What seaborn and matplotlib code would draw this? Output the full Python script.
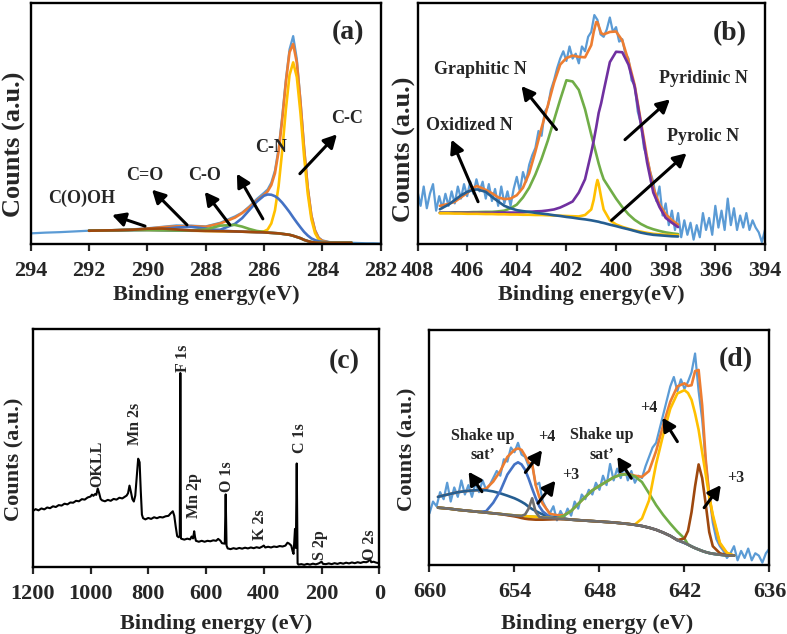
import numpy as np
import matplotlib
matplotlib.use("Agg")
import matplotlib.pyplot as plt
import seaborn as sns

# ---------------- (a) C 1s ----------------
be_a = [292, 291.5, 291, 290.5, 290, 289.5, 289, 288.5, 288, 287.5, 287, 286.75, 286.5, 286.25,
        286, 285.875, 285.75, 285.625, 285.5, 285.375, 285.25, 285.125, 285, 284.875, 284.75,
        284.625, 284.5, 284.375, 284.25, 284.125, 284, 283.75, 283.5, 283.25, 283]
raw_be_a = [294, 293.5, 293, 292.5] + be_a + [282.75, 282.5, 282.25, 282]
raw_a = [4.6, 4.9, 5.1, 5.4,
         5.7, 5.9, 6.0, 6.3, 6.7, 7.3, 7.9, 7.8, 7.5, 9.0, 11.6, 13.2, 15.8, 18.8, 21.4, 22.8,
         25.6, 30.6, 39.8, 53.2, 68.4, 80.8, 86.3, 76.8, 59.8, 40.3, 23.8, 12.3, 6.0, 2.9, 1.7,
         1.0, 0.8, 0.7, 0.7,
         0.6, 0.5, 0.5, 0.4]
env_a = [5.7, 5.8, 5.9, 6.1, 6.5, 7.1, 7.5, 7.6, 7.3, 8.7, 11.1, 13.0, 15.4, 18.2, 20.6, 22.0,
         24.6, 29.5, 38.5, 51.8, 67.2, 79.6, 83.0, 75.3, 58.9, 39.7, 23.3, 11.9, 5.7, 2.6, 1.5,
         0.8, 0.7, 0.7, 0.7]
cc_a = [5.7, 5.8, 5.9, 6.0, 6.0, 5.9, 5.8, 5.7, 5.6, 5.5, 5.4, 5.3, 5.2, 5.1, 5.4, 6.2, 8.7,
        14.1, 24.2, 38.9, 56.0, 70.2, 75.4, 69.3, 54.4, 36.4, 21.0, 10.4, 4.7, 2.0, 1.1, 0.7,
        0.7, 0.7, 0.7]
cn_a = [5.7, 5.8, 5.9, 6.0, 6.0, 5.9, 5.8, 5.7, 5.7, 6.1, 8.5, 10.9, 14.3, 17.7, 20.2, 20.7,
        20.6, 20.0, 18.9, 17.3, 15.4, 13.4, 11.2, 9.1, 7.1, 5.2, 3.7, 2.5, 1.8, 1.3, 1.1, 0.8,
        0.7, 0.7, 0.7]
c_dbl_o_a = [5.7, 5.8, 5.9, 6.0, 6.1, 6.4, 7.0, 7.3, 6.6, 5.8, 5.4, 5.3, 5.2, 5.1, 5.0, 4.9,
             4.8, 4.7, 4.6, 4.4, 4.2, 4.0, 3.6, 3.1, 2.6, 1.9, 1.4, 1.0, 0.8, 0.7, 0.7, 0.7,
             0.7, 0.7, 0.7]
co_a = [5.7, 5.8, 5.9, 6.0, 6.0, 5.9, 5.8, 5.8, 6.2, 7.8, 8.1, 7.4, 6.4, 5.6, 5.2, 4.9, 4.8,
        4.7, 4.6, 4.4, 4.2, 4.0, 3.6, 3.1, 2.6, 1.9, 1.4, 1.0, 0.8, 0.7, 0.7, 0.7, 0.7, 0.7, 0.7]
cooh_base_a = [5.7, 5.8, 5.9, 6.1, 6.5, 6.6, 6.2, 5.8, 5.6, 5.5, 5.4, 5.3, 5.2, 5.1, 5.0, 4.9,
               4.8, 4.7, 4.6, 4.4, 4.2, 4.0, 3.6, 3.1, 2.6, 1.9, 1.4, 1.0, 0.8, 0.7, 0.7, 0.7,
               0.7, 0.7, 0.7]

# ---------------- (b) N 1s ----------------
be_b = [407.1, 406.75, 406.5, 406.25, 406.0, 405.75, 405.6, 405.25, 405.0, 404.75, 404.5,
        404.25, 404.0, 403.75, 403.5, 403.25, 403.0, 402.75, 402.5, 402.25, 402.0, 401.75,
        401.5, 401.25, 401.0, 400.9, 400.8, 400.75, 400.7, 400.6, 400.5, 400.25, 400.0, 399.75,
        399.5, 399.25, 399.0, 398.75, 398.5, 398.25, 398.0, 397.75, 397.5]
raw_be_b = np.linspace(408, 394, 113)
raw_b = [22, 16, 24, 15, 21, 25, 14, 20,
         15, 21, 16, 22, 17, 24, 19, 25,
         20, 26, 21, 27, 22, 26, 19, 25,
         18, 23, 16, 24, 17, 22, 16, 23,
         28, 22, 30, 26, 33, 37, 40, 47,
         45, 55, 57, 64, 68, 73, 77, 80,
         76, 82, 77, 79, 75, 82, 80, 86,
         88, 95, 93, 87, 86, 89, 94, 88,
         90, 84, 85, 79, 77, 68, 66, 55,
         50, 40, 36, 30, 26, 18, 24, 12,
         17, 8, 14, 6, 13, 3, 10, 4,
         9, 2, 8, 3, 13, 6, 11, 4,
         16, 7, 14, 6, 19, 8, 15, 6,
         12, 7, 13, 6, 10, 7, 5, 1,
         6]
env_b = [16.0, 16.8, 17.7, 19.5, 21.3, 23.5, 24.2, 22.6, 21.2, 19.5, 18.8, 19.0, 20.4, 23.5,
         29.5, 38.5, 48.3, 57.5, 67.0, 74.5, 77.2, 78.2, 77.7, 77.5, 82.5, 88.0, 92.1, 92.0,
         90.5, 87.5, 87.0, 88.0, 88.2, 84.5, 76.0, 66.0, 51.0, 36.0, 23.5, 16.5, 12.5, 10.0, 8.2]
oxidized_b = [14.6, 16.5, 18.4, 20.3, 21.8, 22.6, 22.8, 21.8, 19.7, 17.8, 16.0, 15.0, 14.2,
              13.8, 13.5, 13.1, 12.8, 12.5, 12.1, 11.8, 11.4, 11.1, 10.7, 10.4, 10.0, 9.8, 9.6,
              9.5, 9.4, 9.1, 8.9, 8.2, 7.6, 6.9, 6.3, 5.6, 4.9, 4.4, 4.0, 3.8, 3.6, 3.4, 3.3]
graphitic_b = [13.2, 13.2, 13.3, 13.3, 13.3, 13.4, 13.4, 13.5, 13.5, 13.7, 14.0, 15.0, 16.5,
               19.5, 23.5, 29.0, 35.5, 43.0, 51.5, 60.0, 68.0, 67.5, 64.0, 56.0, 45.5, 41.5,
               37.5, 35.5, 33.5, 30.0, 27.0, 23.0, 19.0, 15.5, 12.5, 10.2, 8.5, 7.2, 6.3, 5.6,
               5.0, 4.6, 4.3]
pyridinic_b = [13.1, 13.1, 13.1, 13.1, 13.1, 13.1, 13.1, 13.1, 13.1, 13.2, 13.2, 13.2, 13.2,
               13.3, 13.5, 13.7, 13.8, 14.1, 14.5, 15.3, 16.5, 17.8, 21.5, 27.0, 38.0, 43.0,
               48.5, 51.5, 54.5, 58.5, 63.5, 75.5, 79.8, 79.6, 74.5, 65.2, 50.0, 34.0, 21.5,
               15.5, 11.0, 9.0, 7.2]
pyrolic_b = [12.9, 12.9, 12.8, 12.8, 12.7, 12.7, 12.7, 12.6, 12.6, 12.5, 12.5, 12.4, 12.4,
             12.3, 12.3, 12.2, 12.2, 12.1, 12.0, 11.9, 11.8, 11.7, 11.6, 12.2, 14.5, 18.5, 24.5,
             26.7, 25.0, 19.5, 14.5, 10.0, 8.3, 7.3, 6.5, 5.8, 5.3, 4.8, 4.4, 4.2, 4.0, 3.9, 3.8]

# ---------------- (c) survey ----------------
survey_be = [1200, 1190, 1180, 1170, 1160, 1150, 1140, 1130, 1120, 1110,
             1100, 1090, 1080, 1070, 1060, 1050, 1040, 1030, 1020, 1010,
             1000, 995, 990, 985, 980, 975, 970, 965, 960,
             950, 940, 930, 920, 910, 900, 890, 880,
             875, 870, 865, 860, 855, 850, 845, 840, 835, 830, 826, 822, 818,
             810, 800, 790, 780, 770, 760, 750, 740, 730,
             722, 715, 710, 705, 700, 695, 691, 689, 687, 684,
             675, 665, 655, 650, 645, 641, 638, 635,
             625, 615, 605, 595, 585, 575, 565, 558, 550, 545, 535, 532, 529, 525,
             515, 505, 495, 485, 475, 465, 455, 445, 435, 425, 415, 405, 400, 395,
             385, 375, 365, 355, 345, 335, 325, 318, 312, 305, 300, 297, 294, 292, 289, 286, 283, 280,
             270, 260, 250, 240, 230, 220, 210, 200, 195,
             185, 175, 165, 155, 145, 135, 125, 115, 105, 95, 85, 75, 65, 55, 45,
             38, 33, 28, 20, 10, 0]
survey_counts = [23.5, 24.3, 23.8, 24.6, 24.2, 25.0, 24.7, 25.5, 25.2, 26.0,
                 25.8, 26.6, 26.3, 27.1, 27.0, 27.8, 27.6, 28.5, 28.3, 29.2,
                 29.6, 30.4, 29.9, 30.6, 30.3, 33.0, 31.0, 28.6, 28.0,
                 27.6, 28.2, 27.8, 28.6, 28.3, 29.1, 28.8, 29.6,
                 30.0, 31.0, 34.2, 31.5, 28.5, 27.5, 30.0, 38.0, 45.5, 44.0, 32.0, 22.0, 20.5,
                 20.0, 20.6, 20.2, 20.9, 20.5, 21.0, 20.8, 21.3, 21.5,
                 22.6, 23.4, 21.5, 17.0, 13.0, 12.5, 13.0, 81.5, 12.0, 11.8,
                 11.5, 11.9, 11.6, 12.8, 12.0, 15.0, 12.5, 11.0,
                 10.6, 11.0, 10.6, 11.0, 10.8, 11.2, 11.0, 11.8, 11.0, 10.0, 9.8, 30.5, 9.0, 7.8,
                 7.5, 7.9, 7.6, 8.0, 7.7, 8.1, 7.8, 8.2, 7.9, 8.3, 8.0, 8.6, 9.0, 8.2,
                 8.5, 8.2, 8.6, 8.4, 8.8, 8.6, 9.0, 10.2, 9.8, 9.0, 6.5, 5.5, 12.0, 16.0, 8.0, 43.5, 1.5, 1.0,
                 1.2, 0.9, 1.3, 1.0, 1.4, 1.1, 1.5, 2.2, 1.3,
                 1.2, 1.5, 1.2, 1.6, 1.3, 1.7, 1.4, 1.8, 1.5, 1.9, 1.6, 2.0, 1.7, 2.1, 2.0,
                 2.4, 3.5, 2.0, 2.2, 1.8, 1.6]
survey_labels = ["OKLL", "Mn 2s", "F 1s", "Mn 2p", "O 1s", "K 2s", "C 1s", "S 2p", "O 2s"]
survey_label_be = [977, 846, 681, 643, 527, 413, 274.5, 205, 32]
survey_label_y = [33.6, 51.3, 82.0, 20.5, 31.5, 11.2, 47.9, 2.8, 2.8]

# ---------------- (d) Mn 2p ----------------
be_d = [659.4, 659.0, 658.5, 658.0, 657.5, 657.0, 656.5, 656.0, 655.5, 655.0, 654.5, 654.0,
        653.75, 653.5, 653.25, 653.0, 652.75, 652.5, 652.25, 652.0, 651.5, 651.0, 650.5, 650.0,
        649.5, 649.0, 648.5, 648.0, 647.5, 647.0, 646.5, 646.0, 645.5, 645.0, 644.5, 644.0,
        643.5, 643.0, 642.5, 642.0, 641.75, 641.5, 641.25, 641.0, 640.75, 640.5, 640.25, 640.0,
        639.5, 639.0, 638.5]
raw_be_d = np.linspace(660, 636, 97)
raw_d = [22, 27, 25, 31, 28, 35, 27, 33, 29, 36, 30, 34, 29, 35, 31, 36,
         32, 34, 37, 40, 38, 45, 44, 50, 48, 52, 47, 46, 42, 43, 34, 35,
         27, 24, 22, 25, 19, 23, 20, 24, 21, 27, 24, 30, 28, 32, 30, 35,
         32, 38, 34, 43, 36, 41, 37, 42, 36, 40, 35, 38, 37, 42, 46, 50,
         52, 58, 64, 70, 76, 80, 74, 79, 75, 78, 82, 90, 74, 62, 44, 30,
         18, 11, 8, 6, 3, 5, 8, 2, 6, 3, 7, 2, 5, 4, 1, 5,
         7]
env_d = [29.0, 29.6, 30.3, 31.0, 31.4, 31.7, 31.9, 32.5, 35.5, 40.0, 46.0, 49.0, 49.6, 49.0,
         46.5, 43.5, 43.0, 34.0, 29.0, 26.0, 21.8, 21.2, 21.2, 23.0, 26.0, 29.0, 31.8, 33.7,
         35.5, 37.3, 38.5, 38.8, 38.0, 37.5, 40.0, 48.5, 59.5, 69.5, 76.0, 77.3, 76.2, 76.5,
         82.5, 83.0, 68.0, 45.0, 29.5, 20.5, 9.0, 5.0, 4.0]
sat_left_d = [29.0, 29.6, 30.3, 31.0, 31.4, 31.7, 31.9, 31.8, 31.3, 30.5, 29.5, 28.4, 27.7,
              26.9, 26.0, 24.8, 23.8, 23.0, 22.2, 21.5, 20.6, 20.1, 19.8, 19.3, 19.1, 18.9,
              18.7, 18.5, 18.3, 18.1, 17.8, 17.5, 17.1, 16.6, 15.9, 15.0, 13.8, 12.4, 10.6, 9.4,
              8.7, 7.9, 7.2, 6.6, 6.0, 5.5, 5.1, 4.8, 4.4, 4.1, 4.0]
mn4_left_d = [24.4, 24.2, 23.9, 23.5, 23.2, 22.9, 22.6, 22.9, 26.5, 31.5, 38.5, 42.8, 43.7,
              42.8, 40.5, 36.8, 32.5, 28.5, 25.0, 22.8, 20.4, 19.8, 19.6, 19.3, 19.1, 18.9,
              18.7, 18.5, 18.3, 18.1, 17.8, 17.5, 17.1, 16.6, 15.9, 15.0, 13.8, 12.4, 10.6, 9.4,
              8.7, 7.9, 7.2, 6.6, 6.0, 5.5, 5.1, 4.8, 4.4, 4.1, 4.0]
sat_right_d = [24.4, 24.2, 23.9, 23.5, 23.2, 22.9, 22.6, 22.3, 22.0, 21.7, 21.4, 21.1, 21.0,
               20.9, 20.8, 20.7, 20.6, 20.5, 20.3, 20.2, 20.0, 19.8, 21.0, 23.0, 26.0, 29.0,
               31.8, 33.7, 35.5, 37.3, 38.4, 38.6, 37.7, 35.3, 30.5, 25.5, 21.3, 17.6, 14.2,
               11.3, 8.7, 7.9, 7.2, 6.6, 6.0, 5.5, 5.1, 4.8, 4.4, 4.1, 4.0]
mn4_right_d = [24.4, 24.2, 23.9, 23.5, 23.2, 22.9, 22.6, 22.3, 22.0, 21.7, 21.4, 21.1, 21.0,
               20.9, 20.8, 20.7, 20.6, 20.5, 20.3, 20.2, 20.0, 19.8, 19.6, 19.3, 19.1, 18.9,
               18.7, 18.5, 18.3, 18.1, 17.8, 17.5, 17.2, 19.8, 27.5, 43.0, 55.5, 66.5, 73.0,
               74.4, 73.2, 70.3, 64.5, 57.5, 48.0, 38.5, 29.0, 21.5, 9.5, 5.2, 4.0]
mn3_d = [24.4, 24.2, 23.9, 23.5, 23.2, 22.9, 22.6, 22.3, 22.0, 21.7, 21.2, 20.7, 20.4, 20.0,
         19.7, 19.5, 19.4, 19.3, 19.3, 19.3, 19.4, 19.5, 19.5, 19.3, 19.1, 18.9, 18.7, 18.5,
         18.3, 18.1, 17.8, 17.5, 17.1, 16.6, 15.9, 15.0, 13.8, 12.4, 10.6, 11.3, 14.5, 22.5,
         33.5, 42.8, 37.0, 26.0, 14.0, 8.0, 5.0, 4.1, 4.0]
base_d = [24.4, 24.2, 23.9, 23.5, 23.2, 22.9, 22.6, 22.3, 22.0, 21.7, 21.4, 21.1, 21.0, 20.9,
          21.5, 24.0, 28.4, 22.5, 20.5, 20.2, 20.0, 19.8, 19.6, 19.3, 19.1, 18.9, 18.7, 18.5,
          18.3, 18.1, 17.8, 17.5, 17.1, 16.6, 15.9, 15.0, 13.8, 12.4, 10.6, 9.4, 8.7, 7.9, 7.2,
          6.6, 6.0, 5.5, 5.1, 4.8, 4.4, 4.1, 4.0]

# colours (Excel palette)
RAW = "#5B9BD5"
ORANGE = "#ED7D31"
YELLOW = "#FFC000"
BLUE = "#4472C4"
GREEN = "#70AD47"
BROWN = "#9E480E"
DBLUE = "#255E91"
PURPLE = "#7030A0"
GRAY = "#6E6E6E"

sns.set_style("ticks")
plt.rcParams["font.family"] = ["Liberation Serif", "DejaVu Serif"]
plt.rcParams["font.weight"] = "bold"
plt.rcParams["axes.labelweight"] = "bold"


def line(ax, x, y, color, lw=1.9):
    sns.lineplot(x=x, y=y, ax=ax, color=color, linewidth=lw,
                 estimator=None, sort=False, legend=False)


def arrow(ax, tail, head):
    ax.annotate("", xy=head, xytext=tail,
                arrowprops=dict(arrowstyle="-|>,head_length=0.6,head_width=0.32",
                                color="black", lw=2.2, shrinkA=0, shrinkB=0,
                                mutation_scale=13))


def frame(ax, xlim, xticks, xlabel, xlab_pos, ylab_size, ylab_pos, tag, tag_pos):
    ax.set_xlim(*xlim)
    ax.set_ylim(0, 100)
    ax.set_xticks(xticks)
    ax.set_yticks([])
    ax.tick_params(axis="x", direction="out", length=5, width=1.6, pad=7,
                   labelsize=16)
    for sp in ax.spines.values():
        sp.set_visible(True)
        sp.set_linewidth(1.7)
        sp.set_color("black")
    ax.set_xlabel(xlabel, fontsize=16, fontweight="bold", va="center")
    ax.xaxis.set_label_coords(*xlab_pos)
    ax.set_ylabel("Counts (a.u.)", fontsize=ylab_size, fontweight="bold", va="center")
    ax.yaxis.set_label_coords(*ylab_pos)
    ax.text(tag_pos[0], tag_pos[1], tag, transform=ax.transAxes, ha="center",
            va="center", fontsize=20, fontweight="bold")


fig = plt.figure(figsize=(7.87, 6.34), dpi=100)
ax_a = fig.add_axes([0.0390, 0.6144, 0.4447, 0.3809])
ax_b = fig.add_axes([0.5305, 0.6144, 0.4415, 0.3809])
ax_c = fig.add_axes([0.0416, 0.1057, 0.4404, 0.3754])
ax_d = fig.add_axes([0.5457, 0.1088, 0.4320, 0.3707])

# (a)
line(ax_a, raw_be_a, raw_a, RAW, 1.6)
line(ax_a, be_a, env_a, ORANGE)
line(ax_a, be_a, cc_a, YELLOW)
line(ax_a, be_a, cn_a, BLUE)
line(ax_a, be_a, c_dbl_o_a, BLUE)
line(ax_a, be_a, co_a, GREEN)
line(ax_a, be_a, cooh_base_a, BROWN)
frame(ax_a, (294, 282), np.arange(294, 281, -2), "Binding energy(eV)", (0.501, -0.21),
      19, (-0.047, 0.4165), "(a)", (0.906, 0.878))
for txt, pos in [("C-C", (283.15, 52.3)), ("C-N", (285.76, 40.2)), ("C=O", (290.08, 28.5)),
                 ("C-O", (288.03, 28.5)), ("C(O)OH", (292.24, 19.3))]:
    ax_a.text(pos[0], pos[1], txt, ha="center", va="center", fontsize=13, fontweight="bold")
arrow(ax_a, (284.77, 29.3), (283.5, 45.6))
arrow(ax_a, (286.04, 10.6), (286.93, 29.3))
arrow(ax_a, (287.17, 8.1), (288.03, 21.8))
arrow(ax_a, (288.64, 8.1), (289.84, 22.7))
arrow(ax_a, (290.08, 7.6), (291.21, 12.2))

# (b)
line(ax_b, raw_be_b, raw_b, RAW, 1.6)
line(ax_b, be_b, env_b, ORANGE)
line(ax_b, be_b, graphitic_b, GREEN)
line(ax_b, be_b, pyridinic_b, PURPLE)
line(ax_b, be_b, pyrolic_b, YELLOW)
line(ax_b, be_b, oxidized_b, DBLUE)
frame(ax_b, (408, 394), np.arange(408, 393, -2), "Binding energy(eV)", (0.499, -0.21),
      19, (-0.037, 0.394), "(b)", (0.899, 0.872))
for txt, pos in [("Graphitic N", (405.47, 72.6)), ("Pyridinic N", (396.49, 68.9)),
                 ("Oxidized N", (405.89, 49.4)), ("Pyrolic N", (396.49, 44.8))]:
    ax_b.text(pos[0], pos[1], txt, ha="center", va="center", fontsize=13, fontweight="bold")
arrow(ax_b, (402.40, 47.6), (403.81, 65.6))
arrow(ax_b, (405.56, 17.7), (406.63, 43.4))
arrow(ax_b, (399.64, 43.4), (397.83, 60.1))
arrow(ax_b, (400.18, 10.0), (397.16, 37.8))

# (c)
line(ax_c, survey_be, survey_counts, "black", 1.5)
frame(ax_c, (1200, 0), np.arange(1200, -1, -200), "Binding energy (eV)", (0.529, -0.24),
      16, (-0.054, 0.454), "(c)", (0.898, 0.864))
for txt, xb, yb in zip(survey_labels, survey_label_be, survey_label_y):
    ax_c.text(xb, yb, txt, rotation=90, ha="center", va="bottom", fontsize=11.5,
              fontweight="bold")

# (d)
line(ax_d, raw_be_d, raw_d, RAW, 1.6)
line(ax_d, be_d, env_d, ORANGE)
line(ax_d, be_d, sat_left_d, DBLUE)
line(ax_d, be_d, mn4_left_d, BLUE)
line(ax_d, be_d, sat_right_d, GREEN)
line(ax_d, be_d, mn4_right_d, YELLOW)
line(ax_d, be_d, mn3_d, BROWN)
line(ax_d, be_d, base_d, GRAY)
frame(ax_d, (660, 636), np.arange(660, 635, -6), "Binding energy (eV)", (0.494, -0.25),
      16, (-0.066, 0.493), "(d)", (0.901, 0.873))
for txt, pos in [("Shake up\nsat\u2019", (656.23, 50.9)), ("+4", (651.7, 54.6)),
                 ("+3", (650.05, 38.3)), ("Shake up\nsat\u2019", (647.81, 51.1)),
                 ("+4", (644.5, 67.0)), ("+3", (638.37, 37.2))]:
    ax_d.text(pos[0], pos[1], txt, ha="center", va="center", fontsize=11.5,
              fontweight="bold", linespacing=1.3)
arrow(ax_d, (656.3, 31.2), (657.24, 39.7))
arrow(ax_d, (653.23, 39.4), (652.05, 48.9))
arrow(ax_d, (652.34, 26.3), (651.11, 35.9))
arrow(ax_d, (645.75, 36.9), (646.74, 46.1))
arrow(ax_d, (642.5, 52.5), (643.56, 62.7))
arrow(ax_d, (640.61, 24.4), (639.43, 34.0))

fig.savefig("out.png", dpi=100)
